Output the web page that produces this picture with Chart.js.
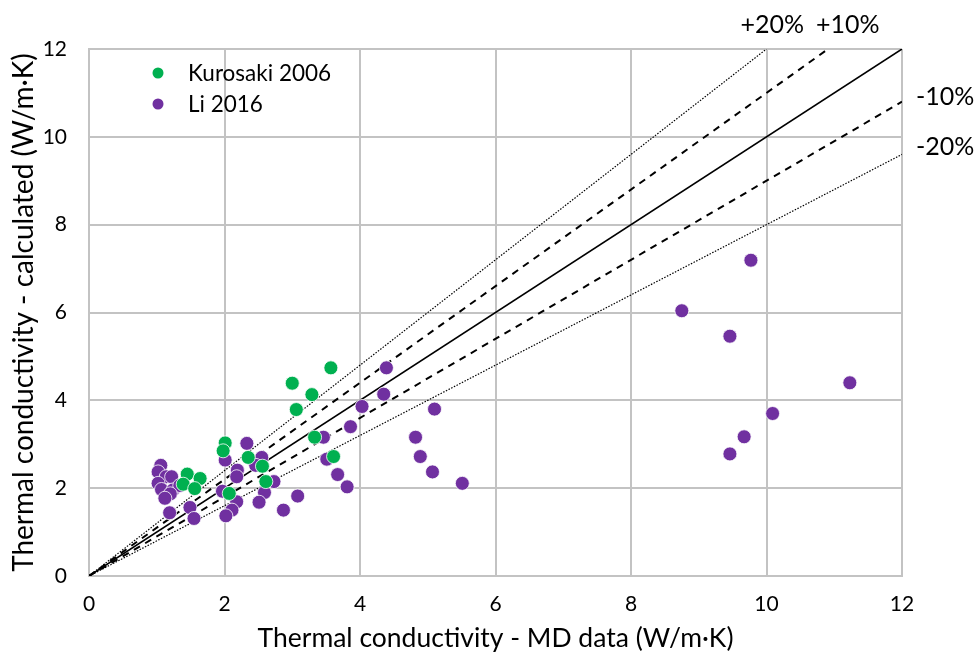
<!DOCTYPE html>
<html>
<head>
<meta charset="utf-8">
<script src="https://cdn.jsdelivr.net/npm/chart.js"></script>
<style>
html,body{margin:0;padding:0;background:#fff;}
#wrap{width:978px;height:654px;position:relative;}
</style>
</head>
<body>
<div id="wrap"><canvas id="c" width="978" height="654"></canvas></div>
<script>
// ---- data ----
const kurosakiX = [2.01,1.98,2.35,2.56,1.45,1.64,1.39,1.56,2.07,2.61,3.57,3.00,3.29,3.06,3.33,3.61];
const kurosakiY = [3.03,2.85,2.70,2.50,2.32,2.22,2.09,1.99,1.88,2.15,4.74,4.39,4.13,3.79,3.16,2.72];
const liX = [2.33,2.01,2.55,2.46,2.19,2.18,1.06,1.02,1.14,1.22,1.02,1.07,1.24,1.34,1.20,1.12,1.19,1.49,1.55,1.97,2.18,2.11,2.02,2.59,2.51,2.73,4.39,4.35,4.03,3.86,3.46,3.51,3.67,3.81,3.08,2.87,5.10,4.82,4.89,5.07,5.51,9.77,8.75,9.46,11.23,10.09,9.67,9.46];
const liY = [3.02,2.64,2.70,2.52,2.41,2.26,2.52,2.37,2.26,2.26,2.11,1.97,1.96,2.06,1.87,1.77,1.44,1.56,1.31,1.93,1.69,1.50,1.37,1.90,1.68,2.15,4.74,4.14,3.86,3.40,3.16,2.66,2.31,2.03,1.82,1.50,3.80,3.16,2.72,2.37,2.11,7.19,6.04,5.46,4.40,3.70,3.17,2.78];
const refRatios = [1.2, 1.1, 1.0, 0.9, 0.8];
const refLabels = ['+20%', '+10%', '', '-10%', '-20%'];
const xTicks = [0,2,4,6,8,10,12];
const yTicks = [0,2,4,6,8,10,12];
const seriesNames = ['Kurosaki 2006', 'Li 2016'];
const axisMax = 12;

const FONT = "Lato, 'Open Sans', 'Liberation Sans', sans-serif";
const green = '#00b050', purple = '#7030a0';

function refLine(r){
  const xEnd = Math.min(axisMax, axisMax / r);
  return [{x:0,y:0},{x:xEnd,y:xEnd*r}];
}
const refStyles = [
  {dash:[1.5,1.5], w:1.2},
  {dash:[7,6], w:2},
  {dash:[], w:1.6},
  {dash:[7,6], w:2},
  {dash:[1.5,1.5], w:1.2}
];
// label placement offsets (layout only)
const refLabelPos = [
  {dx:-26, y:33},
  {dx:-12, y:33},
  null,
  {x:916, dy:-5},
  {x:916, dy:-7}
];

const datasets = [];
refRatios.forEach((r,i)=>{
  datasets.push({
    type:'line', label:'ref'+i, data: refLine(r),
    borderColor:'#000', borderWidth: refStyles[i].w, borderDash: refStyles[i].dash,
    pointRadius:0, fill:false, order: 5
  });
});
datasets.push({
  type:'scatter', label: seriesNames[0],
  data: kurosakiX.map((x,i)=>({x, y:kurosakiY[i]})),
  backgroundColor: green, borderColor:'#ffffff', borderWidth:0.8, pointRadius:7, order:1
});
datasets.push({
  type:'scatter', label: seriesNames[1],
  data: liX.map((x,i)=>({x, y:liY[i]})),
  backgroundColor: purple, borderColor:'#ffffff', borderWidth:0.8, pointRadius:7, order:2
});

const overlay = {
  id:'overlay',
  afterDraw(chart){
    const ctx = chart.ctx;
    const xs = chart.scales.x, ys = chart.scales.y;
    ctx.save();
    // legend
    const leg = [{name:seriesNames[0], c:green, y:73},{name:seriesNames[1], c:purple, y:104}];
    ctx.font = "22.5px " + FONT;
    ctx.textBaseline = 'middle';
    ctx.textAlign = 'left';
    leg.forEach(l=>{
      ctx.fillStyle = l.c;
      ctx.beginPath(); ctx.arc(158, l.y, 5.5, 0, Math.PI*2); ctx.fill();
      ctx.fillStyle = '#000';
      ctx.fillText(l.name, 188, l.y + 1);
    });
    // reference line labels
    ctx.font = "25px " + FONT;
    ctx.fillStyle = '#000';
    refRatios.forEach((r,i)=>{
      if(!refLabels[i]) return;
      const p = refLabelPos[i];
      if(r > 1){
        const xEnd = axisMax / r;
        ctx.textAlign = 'left'; ctx.textBaseline = 'alphabetic';
        ctx.fillText(refLabels[i], xs.getPixelForValue(xEnd) + p.dx, p.y);
      } else {
        const yEnd = axisMax * r;
        ctx.textAlign = 'left'; ctx.textBaseline = 'middle';
        ctx.fillText(refLabels[i], p.x, ys.getPixelForValue(yEnd) + p.dy);
      }
    });
    ctx.restore();
  }
};

new Chart(document.getElementById('c'), {
  data:{ datasets },
  options:{
    responsive:false, animation:false,
    layout:{ padding:{ top:49, right:76, left:0, bottom:0 } },
    plugins:{ legend:{display:false}, tooltip:{enabled:false} },
    scales:{
      x:{
        type:'linear', min:0, max:axisMax,
        afterBuildTicks(s){ s.ticks = xTicks.map(v=>({value:v})); },
        afterFit(s){ s.height = 78; },
        grid:{ color:'#c3c3c3', lineWidth:2, drawTicks:false },
        border:{ color:'#c3c3c3', width:2 },
        ticks:{ font:{size:21, family:FONT}, color:'#000', padding:16 },
        title:{ display:true, text:'Thermal conductivity - MD data (W/m·K)', font:{size:26.5, family:FONT}, color:'#000', padding:{top:2,bottom:0} }
      },
      y:{
        type:'linear', min:0, max:axisMax,
        afterBuildTicks(s){ s.ticks = yTicks.map(v=>({value:v})); },
        afterFit(s){ s.width = 89; },
        grid:{ color:'#c3c3c3', lineWidth:2, drawTicks:false },
        border:{ color:'#c3c3c3', width:2 },
        ticks:{ font:{size:21, family:FONT}, color:'#000', padding:22 },
        title:{ display:true, text:'Thermal conductivity - calculated (W/m·K)', font:{size:28, family:FONT}, color:'#000', padding:{top:7,bottom:0} }
      }
    }
  },
  plugins:[overlay]
});
</script>
</body>
</html>
